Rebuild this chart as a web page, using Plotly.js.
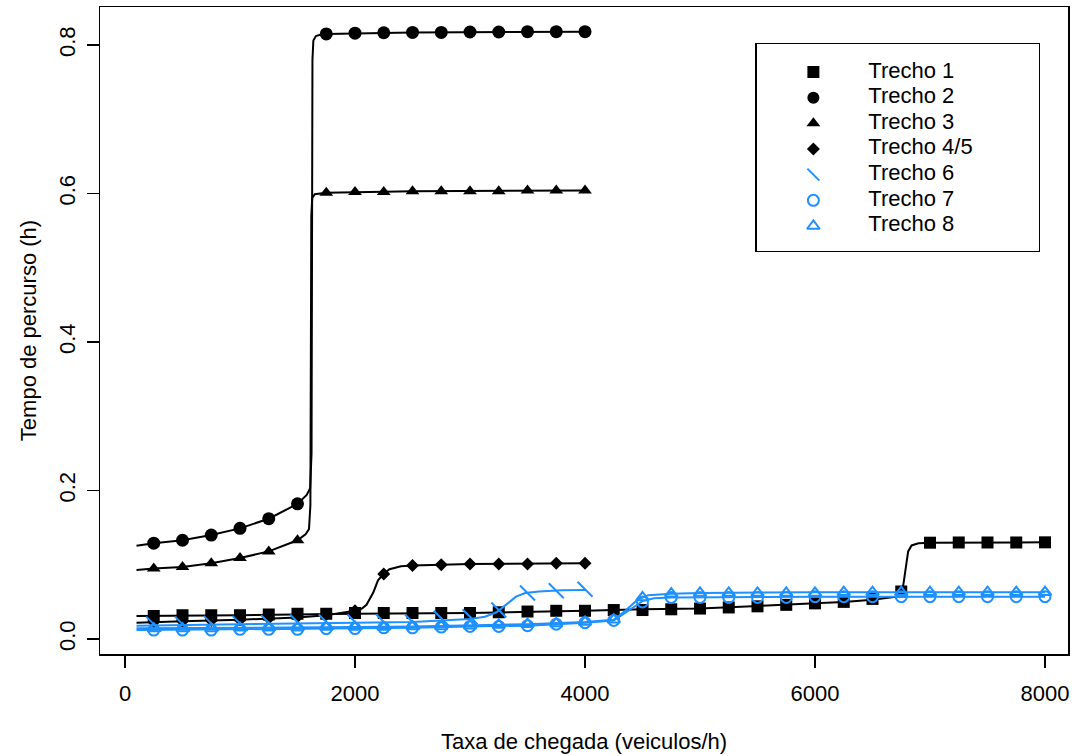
<!DOCTYPE html>
<html>
<head>
<meta charset="utf-8">
<script src="https://cdn.plot.ly/plotly-3.0.1.min.js"></script>
<style>
  html, body { margin: 0; padding: 0; background: #fff; }
  #chart { width: 1076px; height: 756px; }
</style>
</head>
<body>
<div id="chart"></div>
<script>
// Observed travel time per section (markers every 250 veh/h)
const xObs = [250, 500, 750, 1000, 1250, 1500, 1750, 2000, 2250, 2500, 2750, 3000, 3250, 3500, 3750, 4000,
              4250, 4500, 4750, 5000, 5250, 5500, 5750, 6000, 6250, 6500, 6750, 7000, 7250, 7500, 7750, 8000];
const xObsHalf = xObs.slice(0, 16);

const trecho1 = [0.031, 0.032, 0.032, 0.032, 0.033, 0.034, 0.034, 0.035, 0.035, 0.035, 0.035, 0.035, 0.036, 0.037, 0.038, 0.038,
                 0.039, 0.039, 0.040, 0.041, 0.0425, 0.044, 0.046, 0.048, 0.050, 0.054, 0.064, 0.1297, 0.130, 0.130, 0.130, 0.1302];
const trecho2 = [0.129, 0.133, 0.140, 0.149, 0.162, 0.182, 0.815, 0.816, 0.8165, 0.817, 0.817, 0.8175, 0.8175, 0.818, 0.818, 0.818];
const trecho3 = [0.095, 0.097, 0.102, 0.109, 0.118, 0.133, 0.601, 0.602, 0.602, 0.603, 0.603, 0.603, 0.603, 0.604, 0.604, 0.604];
const trecho45 = [0.023, 0.024, 0.025, 0.026, 0.028, 0.030, 0.033, 0.038, 0.0875, 0.099, 0.100, 0.101, 0.101, 0.101, 0.102, 0.102];
const trecho6 = [0.020, 0.020, 0.021, 0.021, 0.022, 0.023, 0.023, 0.023, 0.023, 0.023, 0.028, 0.030, 0.039, 0.062, 0.065, 0.067];
const trecho7 = [0.012, 0.012, 0.012, 0.013, 0.013, 0.013, 0.014, 0.014, 0.015, 0.015, 0.016, 0.017, 0.017, 0.018, 0.020, 0.022,
                 0.025, 0.050, 0.056, 0.056, 0.056, 0.056, 0.056, 0.057, 0.057, 0.057, 0.057, 0.057, 0.057, 0.057, 0.057, 0.057];
const trecho8 = [0.014, 0.014, 0.014, 0.015, 0.015, 0.015, 0.016, 0.016, 0.016, 0.017, 0.017, 0.018, 0.019, 0.020, 0.021, 0.023,
                 0.026, 0.056, 0.061, 0.062, 0.062, 0.062, 0.062, 0.062, 0.063, 0.063, 0.063, 0.063, 0.063, 0.063, 0.063, 0.063];

// Fitted curves for each section
const fit1X = [100, 250, 1000, 2000, 3000, 4000, 4250, 4500, 5000, 5500, 6000, 6250, 6500, 6700, 6750, 6770, 6790, 6810, 6840, 6900, 7000, 8000];
const fit1Y = [0.031, 0.031, 0.032, 0.034, 0.035, 0.038, 0.039, 0.040, 0.041, 0.044, 0.048, 0.050, 0.053, 0.057, 0.059, 0.075, 0.100, 0.118, 0.126, 0.129, 0.1297, 0.1302];
const fit2X = [100, 250, 500, 750, 1000, 1250, 1500, 1580, 1610, 1622, 1630, 1638, 1660, 1700, 1750, 2500, 4000];
const fit2Y = [0.1255, 0.129, 0.133, 0.140, 0.149, 0.162, 0.182, 0.194, 0.203, 0.25, 0.78, 0.806, 0.812, 0.814, 0.815, 0.817, 0.818];
const fit3X = [100, 250, 500, 750, 1000, 1250, 1500, 1570, 1600, 1612, 1620, 1628, 1650, 1700, 1750, 2500, 4000];
const fit3Y = [0.093, 0.095, 0.097, 0.102, 0.109, 0.118, 0.133, 0.141, 0.148, 0.18, 0.57, 0.594, 0.599, 0.600, 0.601, 0.603, 0.604];
const fit45X = [100, 250, 500, 1000, 1500, 1750, 1900, 2000, 2060, 2100, 2160, 2200, 2250, 2300, 2400, 2500, 3000, 4000];
const fit45Y = [0.022, 0.023, 0.024, 0.026, 0.029, 0.032, 0.035, 0.038, 0.041, 0.046, 0.063, 0.079, 0.088, 0.094, 0.098, 0.099, 0.101, 0.102];
const fit6X = [100, 500, 1000, 1500, 2000, 2500, 2800, 3000, 3130, 3230, 3320, 3400, 3480, 3600, 3800, 4000];
const fit6Y = [0.018, 0.019, 0.020, 0.021, 0.022, 0.023, 0.025, 0.027, 0.030, 0.036, 0.047, 0.057, 0.062, 0.064, 0.0655, 0.066];
const fit7X = [100, 1000, 2000, 2500, 3000, 3500, 4000, 4250, 4300, 4400, 4500, 4600, 4750, 6000, 8000];
const fit7Y = [0.012, 0.013, 0.014, 0.015, 0.017, 0.018, 0.022, 0.025, 0.030, 0.041, 0.051, 0.055, 0.056, 0.057, 0.057];
const fit8X = [100, 1000, 2000, 2500, 3000, 3500, 4000, 4250, 4350, 4450, 4550, 4750, 5000, 6000, 8000];
const fit8Y = [0.0145, 0.015, 0.016, 0.017, 0.018, 0.020, 0.023, 0.026, 0.038, 0.052, 0.059, 0.061, 0.062, 0.063, 0.063];

const legendLabels = ["Trecho 1", "Trecho 2", "Trecho 3", "Trecho 4/5", "Trecho 6", "Trecho 7", "Trecho 8"];

const xTicks = [0, 2000, 4000, 6000, 8000];
const yTicks = [0.0, 0.2, 0.4, 0.6, 0.8];

const BLACK = "#000000";
const BLUE = "#1E90FF";
const FONT = "Liberation Sans, Arial, Helvetica, sans-serif";
const FS = 22;

const series = [
  { obsX: xObs,     obsY: trecho1,  fitX: fit1X,  fitY: fit1Y,  color: BLACK, symbol: "square",           size: 12, lw: 0 },
  { obsX: xObsHalf, obsY: trecho2,  fitX: fit2X,  fitY: fit2Y,  color: BLACK, symbol: "circle",           size: 13, lw: 0 },
  { obsX: xObsHalf, obsY: trecho3,  fitX: fit3X,  fitY: fit3Y,  color: BLACK, symbol: "triangle-up",      size: 12, lw: 0 },
  { obsX: xObsHalf, obsY: trecho45, fitX: fit45X, fitY: fit45Y, color: BLACK, symbol: "diamond",          size: 10, lw: 0 },
  { obsX: xObsHalf, obsY: trecho6,  fitX: fit6X,  fitY: fit6Y,  color: BLUE,  symbol: "line-nw",          size: 15, lw: 2 },
  { obsX: xObs,     obsY: trecho7,  fitX: fit7X,  fitY: fit7Y,  color: BLUE,  symbol: "circle-open",      size: 11, lw: 2 },
  { obsX: xObs,     obsY: trecho8,  fitX: fit8X,  fitY: fit8Y,  color: BLUE,  symbol: "triangle-up-open", size: 11, lw: 2 }
];

const traces = [];
series.forEach((s, i) => {
  traces.push({
    type: "scatter", mode: "lines", x: s.fitX, y: s.fitY,
    line: { color: s.color, width: 2 }, hoverinfo: "skip", showlegend: false
  });
  traces.push({
    type: "scatter", mode: "markers", x: s.obsX, y: s.obsY, name: legendLabels[i],
    marker: { color: s.color, symbol: s.symbol, size: s.size, opacity: 1, line: { color: s.color, width: s.lw } },
    showlegend: false
  });
});

// Legend drawn as a small framed subplot
const rows = legendLabels.map((_, i) => i + 1);
traces.push({
  type: "scatter", mode: "markers", xaxis: "x2", yaxis: "y2",
  x: rows.map(() => 0.2), y: rows,
  marker: {
    opacity: 1,
    color: series.map(s => s.color),
    symbol: series.map(s => s.symbol),
    size: series.map(s => Math.min(s.size, 12)),
    line: { color: series.map(s => s.color), width: series.map(s => s.lw) }
  },
  hoverinfo: "skip", showlegend: false
});
traces.push({
  type: "scatter", mode: "text", xaxis: "x2", yaxis: "y2",
  x: rows.map(() => 0.395), y: rows, text: legendLabels,
  textposition: "middle right",
  textfont: { family: FONT, size: FS, color: BLACK },
  hoverinfo: "skip", showlegend: false
});

const axisCommon = {
  showgrid: false, zeroline: false,
  showline: true, mirror: true, linecolor: BLACK, linewidth: 1.5,
  ticks: "outside", ticklen: 12, tickwidth: 1.5, tickcolor: BLACK,
  tickfont: { family: FONT, size: FS, color: BLACK }
};

const layout = {
  width: 1076, height: 756,
  margin: { l: 100, r: 8, t: 7, b: 102 },
  paper_bgcolor: "#ffffff", plot_bgcolor: "#ffffff",
  showlegend: false,
  font: { family: FONT, size: FS, color: BLACK },
  xaxis: Object.assign({}, axisCommon, {
    range: [-217.4, 8200], tickvals: xTicks, ticktext: xTicks.map(String),
    ticklabelstandoff: 7,
    title: { text: "Taxa de chegada (veiculos/h)", font: { family: FONT, size: FS }, standoff: 28 }
  }),
  yaxis: Object.assign({}, axisCommon, {
    range: [-0.0202, 0.8512], tickvals: yTicks, ticktext: yTicks.map(v => v.toFixed(1)),
    tickangle: -90, ticklabelstandoff: 3,
    title: { text: "Tempo de percurso (h)", font: { family: FONT, size: FS }, standoff: 12 }
  }),
  xaxis2: {
    domain: [0.6787, 0.9700], anchor: "y2", range: [0, 1],
    showgrid: false, zeroline: false, showticklabels: false, ticks: "",
    showline: true, mirror: true, linecolor: BLACK, linewidth: 1.5
  },
  yaxis2: {
    domain: [0.6229, 0.9428], anchor: "x2", range: [7.974, -0.091],
    showgrid: false, zeroline: false, showticklabels: false, ticks: "",
    showline: true, mirror: true, linecolor: BLACK, linewidth: 1.5
  }
};

Plotly.newPlot("chart", traces, layout, { displayModeBar: false, staticPlot: true });
</script>
</body>
</html>
